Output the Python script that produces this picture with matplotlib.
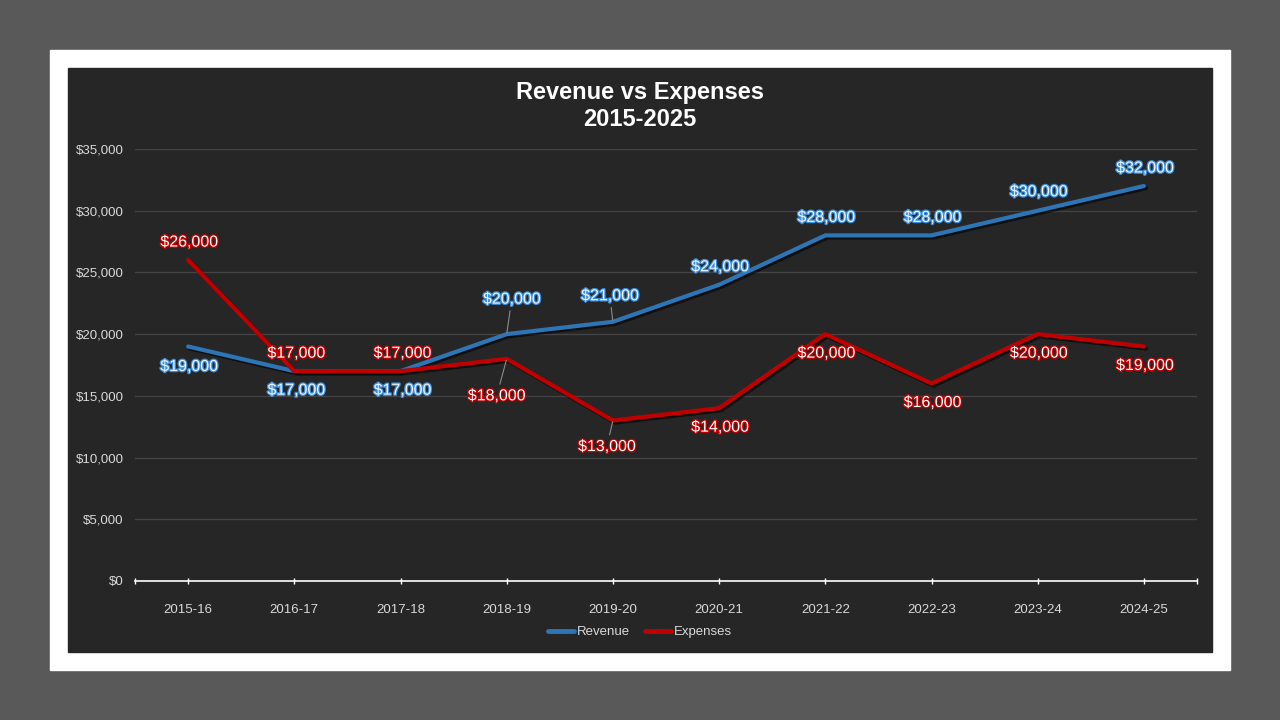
import matplotlib
matplotlib.use("Agg")
import matplotlib.pyplot as plt
import matplotlib.patheffects as pe
import matplotlib.ticker as mtick
from matplotlib.patches import Rectangle

years = ["2015-16", "2016-17", "2017-18", "2018-19", "2019-20",
         "2020-21", "2021-22", "2022-23", "2023-24", "2024-25"]
revenue = [19000, 17000, 17000, 20000, 21000, 24000, 28000, 28000, 30000, 32000]
expenses = [26000, 17000, 17000, 18000, 13000, 14000, 20000, 16000, 20000, 19000]

# label offsets in pixels (x, y up), and which labels get a leader line
revenue_offsets = [(1, -20), (2, -19), (2, -19), (5, 35), (-3, 26),
                   (1, 18), (1, 18), (1, 18), (1, 19), (1, 18)]
expense_offsets = [(1, 18), (2, 18), (2, 18), (-10, -37), (-6, -26),
                   (1, -19), (1, -19), (1, -19), (1, -19), (1, -19)]
revenue_leaders = [False, False, False, True, True, False, False, False, False, False]
expense_leaders = [False, False, False, True, True, False, False, False, False, False]

blue = "#2e75b6"
red = "#c00000"
font = "Liberation Sans"
plt.rcParams["font.family"] = [font, "DejaVu Sans"]

fig = plt.figure(figsize=(12.8, 7.2), dpi=100)
fig.patch.set_facecolor("#595959")
fig.patches.append(Rectangle((50 / 1280, 50 / 720), 1180 / 1280, 620 / 720,
                             transform=fig.transFigure, color="white", zorder=-3))
fig.patches.append(Rectangle((68 / 1280, 68 / 720), 1144 / 1280, 584 / 720,
                             transform=fig.transFigure, color="#262626", zorder=-2))

ax = fig.add_axes([135 / 1280, 1 - 581 / 720, 1062 / 1280, 432 / 720])
ax.set_facecolor("none")

x = list(range(len(years)))
shadow = [pe.SimpleLineShadow(offset=(1.5, -1.5), shadow_color="black", alpha=0.6), pe.Normal()]
ax.plot(x, revenue, color=blue, linewidth=3, label="Revenue", path_effects=shadow,
        solid_capstyle="round", zorder=3)
ax.plot(x, expenses, color=red, linewidth=3, label="Expenses", path_effects=shadow,
        solid_capstyle="round", zorder=3)


def add_labels(values, offsets, leaders, fill, stroke):
    for i, v in enumerate(values):
        arrow = None
        if leaders[i]:
            arrow = dict(arrowstyle="-", color="#8c8c8c", linewidth=0.8, shrinkA=1, shrinkB=1)
        ax.annotate("${:,.0f}".format(v), (x[i], v), xytext=offsets[i],
                    textcoords="offset pixels", ha="center", va="center",
                    fontsize=11.5, color=fill, arrowprops=arrow, zorder=5,
                    path_effects=[pe.withStroke(linewidth=1.8, foreground=stroke)])


add_labels(revenue, revenue_offsets, revenue_leaders, "#eaf4ff", "#3d8fdc")
add_labels(expenses, expense_offsets, expense_leaders, "white", red)

ax.set_xlim(-0.5, len(years) - 0.5)
ax.set_ylim(0, 35000)
ax.set_yticks(range(0, 35001, 5000))
ax.yaxis.set_major_formatter(mtick.StrMethodFormatter("${x:,.0f}"))
ax.set_xticks(x)
ax.set_xticklabels(years)
ax.set_xticks([-0.5, len(years) - 0.5], minor=True)

ax.grid(axis="y", color="#434343", linewidth=1)
ax.set_axisbelow(True)
for side in ["top", "right", "left"]:
    ax.spines[side].set_visible(False)
ax.spines["bottom"].set_color("white")
ax.spines["bottom"].set_linewidth(1.2)

ax.tick_params(axis="y", length=0, pad=8, labelsize=9.5, labelcolor="#d9d9d9")
ax.tick_params(axis="x", which="both", direction="inout", length=5, width=1, color="white",
               pad=14, labelsize=9.5, labelcolor="#d9d9d9")

fig.text(0.5, 1 - 92 / 720, "Revenue vs Expenses", ha="center", va="center",
         fontsize=17, fontweight="bold", color="white")
fig.text(0.5, 1 - 120 / 720, "2015-2025", ha="center", va="center",
         fontsize=17, fontweight="bold", color="white")

leg = fig.legend(loc="center", bbox_to_anchor=(0.5, 1 - 632 / 720), ncol=2, frameon=False,
                 fontsize=9.5, handlelength=2.0, handletextpad=0.2, columnspacing=1.1)
for t in leg.get_texts():
    t.set_color("#d9d9d9")
for h in leg.get_lines():
    h.set_path_effects([])
    h.set_linewidth(3.5)

fig.savefig("out.png", dpi=100, facecolor=fig.get_facecolor())
